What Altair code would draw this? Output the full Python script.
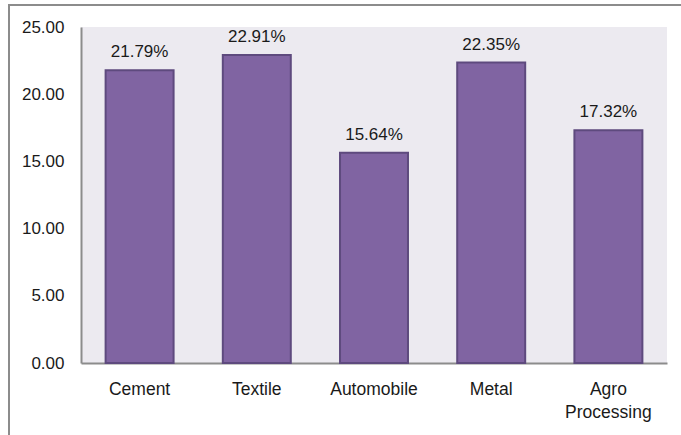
import altair as alt
import pandas as pd

categories = ["Cement", "Textile", "Automobile", "Metal", "Agro Processing"]
values = [21.79, 22.91, 15.64, 22.35, 17.32]
labels = ["21.79%", "22.91%", "15.64%", "22.35%", "17.32%"]
y_ticks = [0, 5, 10, 15, 20, 25]

df = pd.DataFrame({"category": categories, "value": values, "label": labels})

FONT = "Liberation Sans"
FS = 17

x_enc = alt.X(
    "category:N",
    sort=categories,
    scale=alt.Scale(paddingInner=0.42, paddingOuter=0.21),
    axis=alt.Axis(
        title=None,
        labelAngle=0,
        labelExpr="split(datum.label, ' ')",
        labelFont=FONT,
        labelFontSize=17.5,
        labelColor="#1a1a1a",
        labelPadding=17,
        labelLineHeight=23,
        labelBaseline="top",
        ticks=False,
        domainColor="#8c8c8c",
        domainWidth=2,
    ),
)
y_enc = alt.Y(
    "value:Q",
    scale=alt.Scale(domain=[0, 25], nice=False),
    axis=alt.Axis(
        title=None,
        values=y_ticks,
        format=".2f",
        labelFont=FONT,
        labelFontSize=FS,
        labelColor="#1a1a1a",
        labelPadding=17,
        ticks=False,
        grid=False,
        domainColor="#8c8c8c",
        domainWidth=2,
    ),
)

bars = alt.Chart(df).mark_bar(
    color="#8064A2", stroke="#5E4A7E", strokeWidth=2
).encode(x=x_enc, y=y_enc)

text = alt.Chart(df).mark_text(
    font=FONT, fontSize=FS, color="#1a1a1a", dy=-13, baseline="alphabetic"
).encode(
    x=alt.X("category:N", sort=categories),
    y=alt.Y("value:Q"),
    text="label:N",
)

border = alt.Chart(pd.DataFrame({"a": [0]})).mark_rect(
    fill=None, stroke="#8c8c8c", strokeWidth=2, clip=False
).encode(
    x=alt.value(-72), x2=alt.value(612), y=alt.value(-22), y2=alt.value(420)
)

chart = alt.layer(border, bars, text).properties(
    width=586, height=336,
    autosize=alt.AutoSizeParams(type="none"),
    padding={"left": 81, "top": 27, "right": 14, "bottom": 72},
    background="white",
).configure_view(
    fill="#ECEAF0", stroke=None
)

chart.save("out.html", embed_options={"renderer": "svg", "actions": False})
